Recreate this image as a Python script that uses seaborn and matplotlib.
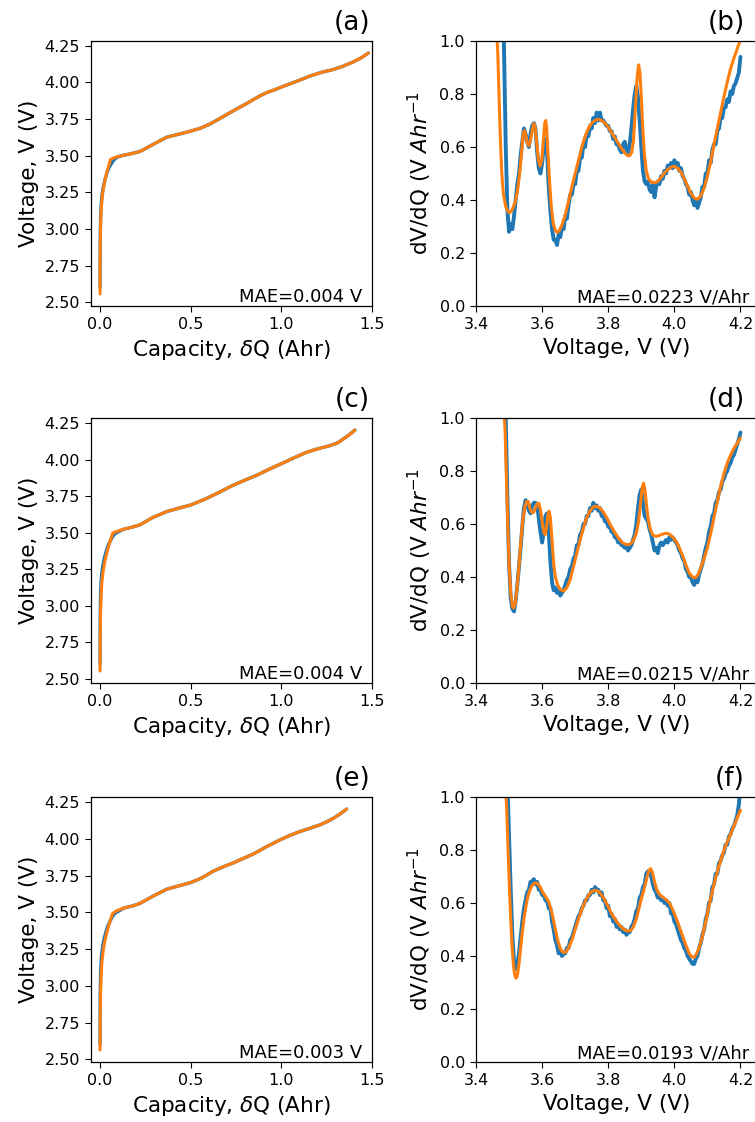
import matplotlib
matplotlib.use("Agg")
import matplotlib.pyplot as plt
import seaborn as sns

# ---------------- data ----------------
# Left column: voltage vs capacity (measured = blue, fitted = orange)
Q_A_MEAS = [0.000, 0.001, 0.003, 0.006, 0.010, 0.015, 0.022, 0.030, 0.040, 0.050,
            0.060, 0.070, 0.080, 0.090, 0.100, 0.120, 0.160, 0.220, 0.290, 0.368,
            0.430, 0.500, 0.560, 0.607, 0.670, 0.735, 0.800, 0.882, 0.919, 0.960,
            1.000, 1.080, 1.158, 1.220, 1.287, 1.340, 1.397, 1.440, 1.480]
V_A_MEAS = [2.60, 2.95, 3.08, 3.16, 3.22, 3.27, 3.31, 3.35, 3.39, 3.42,
            3.44, 3.46, 3.475, 3.485, 3.492, 3.500, 3.510, 3.528, 3.575, 3.626,
            3.645, 3.667, 3.690, 3.716, 3.760, 3.806, 3.850, 3.908, 3.930, 3.948,
            3.968, 4.005, 4.043, 4.068, 4.088, 4.110, 4.140, 4.167, 4.200]
Q_A_FIT = [0.000, 0.000, 0.001, 0.003, 0.006, 0.010, 0.015, 0.022, 0.030, 0.040,
           0.050, 0.057, 0.070, 0.090, 0.120, 0.160, 0.220, 0.290, 0.368, 0.430,
           0.500, 0.560, 0.607, 0.670, 0.735, 0.800, 0.882, 0.919, 0.960, 1.000,
           1.080, 1.158, 1.220, 1.287, 1.340, 1.397, 1.440, 1.480]
V_A_FIT = [2.556, 2.75, 2.90, 3.03, 3.12, 3.19, 3.25, 3.30, 3.35, 3.40,
           3.44, 3.473, 3.482, 3.490, 3.500, 3.510, 3.528, 3.575, 3.626, 3.645,
           3.667, 3.690, 3.716, 3.760, 3.806, 3.850, 3.908, 3.930, 3.948, 3.968,
           4.005, 4.043, 4.068, 4.088, 4.110, 4.140, 4.167, 4.200]

Q_C_MEAS = [0.000, 0.001, 0.003, 0.006, 0.010, 0.016, 0.024, 0.033, 0.043, 0.055,
            0.065, 0.075, 0.085, 0.100, 0.130, 0.180, 0.220, 0.290, 0.368, 0.430,
            0.500, 0.588, 0.660, 0.735, 0.800, 0.864, 0.930, 1.000, 1.070, 1.140,
            1.200, 1.268, 1.310, 1.342, 1.375, 1.406]
V_C_MEAS = [2.60, 2.95, 3.09, 3.17, 3.23, 3.28, 3.33, 3.37, 3.41, 3.44,
            3.465, 3.485, 3.497, 3.507, 3.525, 3.54, 3.555, 3.605, 3.646, 3.668,
            3.691, 3.736, 3.78, 3.827, 3.862, 3.895, 3.935, 3.974, 4.015, 4.053,
            4.076, 4.098, 4.117, 4.144, 4.173, 4.205]
Q_C_FIT = [0.000, 0.001, 0.003, 0.006, 0.010, 0.016, 0.024, 0.033, 0.043, 0.055,
           0.065, 0.070, 0.092, 0.130, 0.180, 0.220, 0.290, 0.368, 0.430, 0.500,
           0.588, 0.660, 0.735, 0.800, 0.864, 0.930, 1.000, 1.070, 1.140, 1.200,
           1.268, 1.310, 1.342, 1.375, 1.406]
V_C_FIT = [2.553, 2.80, 2.96, 3.07, 3.16, 3.23, 3.29, 3.34, 3.39, 3.44,
           3.48, 3.499, 3.51, 3.525, 3.54, 3.555, 3.605, 3.646, 3.668, 3.691,
           3.736, 3.78, 3.827, 3.862, 3.895, 3.935, 3.974, 4.015, 4.053, 4.076,
           4.098, 4.117, 4.144, 4.173, 4.205]

Q_E_MEAS = [0.000, 0.001, 0.003, 0.006, 0.010, 0.016, 0.024, 0.033, 0.043, 0.055,
            0.065, 0.075, 0.085, 0.100, 0.130, 0.180, 0.220, 0.290, 0.368, 0.430,
            0.500, 0.560, 0.625, 0.680, 0.735, 0.846, 0.920, 0.993, 1.050, 1.103,
            1.160, 1.213, 1.250, 1.287, 1.325, 1.360]
V_E_MEAS = [2.60, 2.95, 3.09, 3.17, 3.23, 3.28, 3.33, 3.37, 3.41, 3.44,
            3.465, 3.485, 3.497, 3.507, 3.53, 3.545, 3.562, 3.61, 3.659, 3.68,
            3.704, 3.735, 3.782, 3.812, 3.838, 3.899, 3.95, 3.995, 4.027, 4.052,
            4.075, 4.097, 4.118, 4.142, 4.172, 4.205]
Q_E_FIT = [0.000, 0.001, 0.003, 0.006, 0.010, 0.016, 0.024, 0.033, 0.043, 0.055,
           0.065, 0.070, 0.092, 0.130, 0.180, 0.220, 0.290, 0.368, 0.430, 0.500,
           0.560, 0.625, 0.680, 0.735, 0.846, 0.920, 0.993, 1.050, 1.103, 1.160,
           1.213, 1.250, 1.287, 1.325, 1.360]
V_E_FIT = [2.563, 2.80, 2.96, 3.07, 3.16, 3.23, 3.29, 3.34, 3.39, 3.44,
           3.48, 3.494, 3.512, 3.53, 3.545, 3.562, 3.61, 3.659, 3.68, 3.704,
           3.735, 3.782, 3.812, 3.838, 3.899, 3.95, 3.995, 4.027, 4.052, 4.075,
           4.097, 4.118, 4.142, 4.172, 4.205]

# Right column: dV/dQ vs voltage. Measured (blue) sampled on a shared voltage grid.
V_GRID = [3.480, 3.485, 3.490, 3.495, 3.500, 3.505, 3.510, 3.515, 3.520, 3.525,
          3.530, 3.535, 3.540, 3.545, 3.550, 3.555, 3.560, 3.565, 3.570, 3.575,
          3.580, 3.585, 3.590, 3.595, 3.600, 3.605, 3.610, 3.615, 3.620, 3.625,
          3.630, 3.635, 3.640, 3.645, 3.650, 3.655, 3.660, 3.665, 3.670, 3.675,
          3.680, 3.685, 3.690, 3.695, 3.700, 3.705, 3.710, 3.715, 3.720, 3.725,
          3.730, 3.735, 3.740, 3.745, 3.750, 3.755, 3.760, 3.765, 3.770, 3.775,
          3.780, 3.785, 3.790, 3.795, 3.800, 3.805, 3.810, 3.815, 3.820, 3.825,
          3.830, 3.835, 3.840, 3.845, 3.850, 3.855, 3.860, 3.865, 3.870, 3.875,
          3.880, 3.885, 3.890, 3.895, 3.900, 3.905, 3.910, 3.915, 3.920, 3.925,
          3.930, 3.935, 3.940, 3.945, 3.950, 3.955, 3.960, 3.965, 3.970, 3.975,
          3.980, 3.985, 3.990, 3.995, 4.000, 4.005, 4.010, 4.015, 4.020, 4.025,
          4.030, 4.035, 4.040, 4.045, 4.050, 4.055, 4.060, 4.065, 4.070, 4.075,
          4.080, 4.085, 4.090, 4.095, 4.100, 4.105, 4.110, 4.115, 4.120, 4.125,
          4.130, 4.135, 4.140, 4.145, 4.150, 4.155, 4.160, 4.165, 4.170, 4.175,
          4.180, 4.185, 4.190, 4.195, 4.200]

DVDQ_B_MEAS = [1.30, 0.95, 0.60, 0.36, 0.28, 0.31, 0.29, 0.34, 0.40, 0.46,
               0.50, 0.57, 0.62, 0.67, 0.65, 0.62, 0.60, 0.65, 0.68, 0.69,
               0.67, 0.58, 0.52, 0.50, 0.54, 0.60, 0.63, 0.58, 0.45, 0.36,
               0.29, 0.25, 0.25, 0.23, 0.27, 0.26, 0.30, 0.29, 0.34, 0.33,
               0.38, 0.42, 0.42, 0.46, 0.46, 0.51, 0.51, 0.56, 0.56, 0.61,
               0.60, 0.65, 0.64, 0.68, 0.67, 0.71, 0.69, 0.73, 0.70, 0.73,
               0.70, 0.70, 0.69, 0.68, 0.68, 0.66, 0.66, 0.63, 0.64, 0.61,
               0.61, 0.59, 0.58, 0.61, 0.62, 0.59, 0.58, 0.61, 0.67, 0.74,
               0.80, 0.83, 0.79, 0.70, 0.60, 0.51, 0.47, 0.46, 0.47, 0.44,
               0.43, 0.46, 0.41, 0.45, 0.47, 0.46, 0.49, 0.48, 0.51, 0.50,
               0.53, 0.52, 0.54, 0.52, 0.55, 0.53, 0.54, 0.51, 0.52, 0.49,
               0.48, 0.46, 0.45, 0.42, 0.43, 0.40, 0.38, 0.40, 0.37, 0.39,
               0.41, 0.45, 0.45, 0.50, 0.50, 0.55, 0.54, 0.59, 0.61, 0.61,
               0.66, 0.67, 0.71, 0.71, 0.75, 0.75, 0.78, 0.77, 0.81, 0.80,
               0.83, 0.84, 0.86, 0.88, 0.94]
DVDQ_D_MEAS = [1.60, 1.30, 1.00, 0.70, 0.45, 0.32, 0.28, 0.27, 0.31, 0.37,
               0.44, 0.51, 0.59, 0.66, 0.69, 0.67, 0.65, 0.64, 0.67, 0.68,
               0.68, 0.67, 0.62, 0.57, 0.53, 0.57, 0.63, 0.64, 0.57, 0.46,
               0.38, 0.35, 0.36, 0.34, 0.35, 0.33, 0.34, 0.35, 0.37, 0.39,
               0.40, 0.43, 0.44, 0.47, 0.48, 0.52, 0.52, 0.56, 0.57, 0.60,
               0.60, 0.63, 0.63, 0.66, 0.65, 0.68, 0.66, 0.67, 0.65, 0.66,
               0.63, 0.63, 0.61, 0.61, 0.59, 0.59, 0.57, 0.57, 0.55, 0.55,
               0.53, 0.54, 0.52, 0.52, 0.51, 0.52, 0.50, 0.51, 0.52, 0.54,
               0.56, 0.60, 0.66, 0.71, 0.73, 0.68, 0.63, 0.62, 0.61, 0.58,
               0.56, 0.53, 0.50, 0.51, 0.49, 0.52, 0.53, 0.52, 0.53, 0.54,
               0.53, 0.55, 0.54, 0.55, 0.54, 0.53, 0.52, 0.50, 0.49, 0.47,
               0.46, 0.43, 0.42, 0.40, 0.40, 0.38, 0.37, 0.39, 0.38, 0.41,
               0.43, 0.45, 0.48, 0.51, 0.53, 0.57, 0.59, 0.63, 0.64, 0.68,
               0.69, 0.72, 0.73, 0.76, 0.77, 0.79, 0.80, 0.82, 0.83, 0.85,
               0.86, 0.88, 0.90, 0.92, 0.945]
DVDQ_F_MEAS = [1.60, 1.40, 1.20, 1.05, 0.85, 0.65, 0.48, 0.38, 0.35, 0.37,
               0.41, 0.47, 0.53, 0.58, 0.61, 0.64, 0.65, 0.68, 0.68, 0.69,
               0.67, 0.68, 0.65, 0.65, 0.63, 0.63, 0.61, 0.61, 0.58, 0.58,
               0.53, 0.50, 0.46, 0.44, 0.41, 0.42, 0.40, 0.41, 0.41, 0.43,
               0.43, 0.46, 0.47, 0.49, 0.51, 0.53, 0.55, 0.56, 0.58, 0.59,
               0.61, 0.61, 0.63, 0.63, 0.65, 0.64, 0.66, 0.65, 0.65, 0.63,
               0.64, 0.61, 0.61, 0.58, 0.59, 0.55, 0.56, 0.53, 0.54, 0.51,
               0.52, 0.50, 0.51, 0.49, 0.50, 0.48, 0.49, 0.49, 0.51, 0.52,
               0.54, 0.57, 0.58, 0.62, 0.63, 0.66, 0.67, 0.71, 0.72, 0.72,
               0.70, 0.67, 0.65, 0.64, 0.62, 0.63, 0.61, 0.62, 0.60, 0.61,
               0.59, 0.60, 0.56, 0.56, 0.53, 0.52, 0.50, 0.48, 0.46, 0.45,
               0.43, 0.42, 0.40, 0.39, 0.38, 0.37, 0.37, 0.39, 0.40, 0.43,
               0.45, 0.48, 0.50, 0.54, 0.56, 0.60, 0.61, 0.66, 0.67, 0.71,
               0.71, 0.75, 0.76, 0.78, 0.79, 0.82, 0.82, 0.85, 0.86, 0.88,
               0.89, 0.91, 0.93, 0.97, 1.05]

# Fitted (orange) dV/dQ curves: (voltage, dV/dQ)
FIT_B = [(3.462, 1.05), (3.466, 0.95), (3.470, 0.78), (3.474, 0.62), (3.478, 0.50),
         (3.483, 0.42), (3.490, 0.375), (3.497, 0.355), (3.503, 0.353), (3.510, 0.365),
         (3.518, 0.39), (3.525, 0.43), (3.532, 0.50), (3.538, 0.58), (3.542, 0.64),
         (3.546, 0.662), (3.550, 0.65), (3.555, 0.615), (3.560, 0.605), (3.566, 0.63),
         (3.571, 0.67), (3.575, 0.688), (3.579, 0.675), (3.584, 0.61), (3.589, 0.55),
         (3.594, 0.528), (3.599, 0.55), (3.604, 0.63), (3.608, 0.69), (3.611, 0.70),
         (3.614, 0.665), (3.618, 0.57), (3.623, 0.46), (3.628, 0.37), (3.634, 0.31),
         (3.640, 0.285), (3.646, 0.278), (3.652, 0.285), (3.660, 0.305), (3.670, 0.345),
         (3.680, 0.395), (3.690, 0.45), (3.700, 0.50), (3.710, 0.55), (3.720, 0.60),
         (3.730, 0.64), (3.740, 0.67), (3.750, 0.69), (3.760, 0.70), (3.770, 0.705),
         (3.780, 0.70), (3.790, 0.69), (3.800, 0.675), (3.810, 0.655), (3.820, 0.635),
         (3.830, 0.615), (3.840, 0.595), (3.850, 0.578), (3.858, 0.568), (3.865, 0.567),
         (3.871, 0.58), (3.876, 0.62), (3.880, 0.70), (3.884, 0.79), (3.888, 0.87),
         (3.892, 0.91), (3.896, 0.88), (3.900, 0.79), (3.904, 0.68), (3.909, 0.58),
         (3.915, 0.51), (3.922, 0.48), (3.930, 0.468), (3.940, 0.465), (3.950, 0.47),
         (3.960, 0.485), (3.970, 0.502), (3.980, 0.515), (3.990, 0.524), (4.000, 0.527),
         (4.010, 0.52), (4.020, 0.505), (4.030, 0.48), (4.040, 0.452), (4.050, 0.425),
         (4.060, 0.408), (4.070, 0.403), (4.080, 0.415), (4.090, 0.445), (4.100, 0.49),
         (4.110, 0.545), (4.120, 0.61), (4.130, 0.67), (4.140, 0.73), (4.150, 0.79),
         (4.160, 0.845), (4.170, 0.895), (4.180, 0.935), (4.190, 0.97), (4.200, 1.005)]
FIT_D = [(3.484, 1.05), (3.488, 0.95), (3.492, 0.78), (3.496, 0.60), (3.500, 0.45),
         (3.505, 0.34), (3.510, 0.29), (3.514, 0.283), (3.519, 0.30), (3.525, 0.37),
         (3.530, 0.44), (3.536, 0.54), (3.542, 0.62), (3.548, 0.665), (3.553, 0.685),
         (3.558, 0.685), (3.563, 0.66), (3.568, 0.645), (3.574, 0.643), (3.580, 0.66),
         (3.585, 0.677), (3.590, 0.678), (3.595, 0.655), (3.600, 0.61), (3.605, 0.57),
         (3.609, 0.56), (3.613, 0.585), (3.617, 0.63), (3.621, 0.648), (3.625, 0.625),
         (3.630, 0.54), (3.635, 0.45), (3.640, 0.40), (3.647, 0.37), (3.655, 0.353),
         (3.665, 0.347), (3.675, 0.36), (3.685, 0.39), (3.695, 0.44), (3.705, 0.49),
         (3.715, 0.54), (3.725, 0.585), (3.735, 0.625), (3.745, 0.65), (3.755, 0.665),
         (3.765, 0.667), (3.775, 0.66), (3.785, 0.645), (3.795, 0.625), (3.805, 0.60),
         (3.815, 0.578), (3.825, 0.558), (3.835, 0.54), (3.845, 0.528), (3.855, 0.522),
         (3.865, 0.523), (3.875, 0.535), (3.885, 0.565), (3.892, 0.61), (3.898, 0.68),
         (3.903, 0.74), (3.907, 0.754), (3.911, 0.73), (3.915, 0.68), (3.920, 0.625),
         (3.927, 0.58), (3.935, 0.558), (3.945, 0.553), (3.955, 0.557), (3.965, 0.562),
         (3.975, 0.565), (3.985, 0.562), (3.995, 0.55), (4.005, 0.535), (4.015, 0.51),
         (4.025, 0.48), (4.035, 0.445), (4.045, 0.415), (4.055, 0.40), (4.064, 0.397),
         (4.072, 0.41), (4.080, 0.435), (4.090, 0.47), (4.100, 0.51), (4.110, 0.565),
         (4.120, 0.625), (4.130, 0.685), (4.140, 0.742), (4.150, 0.79), (4.160, 0.83),
         (4.170, 0.86), (4.180, 0.885), (4.190, 0.905), (4.200, 0.925)]
FIT_F = [(3.489, 1.05), (3.493, 0.95), (3.497, 0.80), (3.501, 0.66), (3.505, 0.54),
         (3.509, 0.44), (3.513, 0.37), (3.517, 0.33), (3.521, 0.316), (3.525, 0.325),
         (3.530, 0.37), (3.535, 0.43), (3.540, 0.49), (3.545, 0.54), (3.550, 0.58),
         (3.556, 0.62), (3.562, 0.645), (3.568, 0.663), (3.575, 0.673), (3.582, 0.676),
         (3.588, 0.672), (3.595, 0.658), (3.602, 0.64), (3.610, 0.625), (3.618, 0.61),
         (3.625, 0.585), (3.632, 0.55), (3.640, 0.50), (3.648, 0.455), (3.656, 0.425),
         (3.664, 0.413), (3.672, 0.415), (3.680, 0.43), (3.690, 0.46), (3.700, 0.50),
         (3.710, 0.54), (3.720, 0.575), (3.730, 0.605), (3.740, 0.628), (3.750, 0.643),
         (3.760, 0.648), (3.770, 0.645), (3.780, 0.63), (3.790, 0.61), (3.800, 0.585),
         (3.810, 0.56), (3.820, 0.54), (3.830, 0.522), (3.840, 0.508), (3.850, 0.498),
         (3.860, 0.494), (3.868, 0.496), (3.876, 0.51), (3.885, 0.54), (3.893, 0.58),
         (3.900, 0.615), (3.908, 0.65), (3.916, 0.69), (3.922, 0.72), (3.928, 0.73),
         (3.934, 0.715), (3.940, 0.68), (3.947, 0.65), (3.955, 0.632), (3.965, 0.622),
         (3.975, 0.613), (3.985, 0.60), (3.995, 0.575), (4.005, 0.545), (4.015, 0.51),
         (4.025, 0.475), (4.035, 0.44), (4.045, 0.41), (4.053, 0.397), (4.060, 0.395),
         (4.068, 0.41), (4.076, 0.435), (4.085, 0.475), (4.095, 0.53), (4.105, 0.59),
         (4.115, 0.645), (4.125, 0.695), (4.135, 0.74), (4.145, 0.78), (4.155, 0.815),
         (4.165, 0.845), (4.175, 0.875), (4.185, 0.905), (4.193, 0.93), (4.200, 0.95)]

PANEL_LETTERS = ["(a)", "(b)", "(c)", "(d)", "(e)", "(f)"]
MAE_LEFT = ["MAE=0.004 V", "MAE=0.004 V", "MAE=0.003 V"]
MAE_RIGHT = ["MAE=0.0223 V/Ahr", "MAE=0.0215 V/Ahr", "MAE=0.0193 V/Ahr"]
X_TICKS_LEFT = [0.0, 0.5, 1.0, 1.5]
Y_TICKS_LEFT = [2.50, 2.75, 3.00, 3.25, 3.50, 3.75, 4.00, 4.25]
X_TICKS_RIGHT = [3.4, 3.6, 3.8, 4.0, 4.2]
Y_TICKS_RIGHT = [0.0, 0.2, 0.4, 0.6, 0.8, 1.0]

for arr in (DVDQ_B_MEAS, DVDQ_D_MEAS, DVDQ_F_MEAS):
    assert len(arr) == len(V_GRID)

# ---------------- style ----------------
sns.set_style("ticks")
plt.rcParams["font.family"] = ["DejaVu Sans"]
plt.rcParams.update({
    "axes.edgecolor": "black", "axes.labelcolor": "black", "text.color": "black",
    "xtick.color": "black", "ytick.color": "black", "axes.linewidth": 0.9,
    "xtick.major.size": 4.5, "ytick.major.size": 4.5,
    "xtick.labelsize": 11.5, "ytick.labelsize": 11.5,
    "mathtext.fontset": "dejavusans",
})
BLUE = "#1f77b4"
ORANGE = "#ff7f0e"

W, H = 755, 1122
fig = plt.figure(figsize=(W / 100, H / 100), dpi=100)


def add_ax(x0, top, w=281, h=265):
    return fig.add_axes([x0 / W, 1 - (top + h) / H, w / W, h / H])


left_data = [(Q_A_MEAS, V_A_MEAS, Q_A_FIT, V_A_FIT),
             (Q_C_MEAS, V_C_MEAS, Q_C_FIT, V_C_FIT),
             (Q_E_MEAS, V_E_MEAS, Q_E_FIT, V_E_FIT)]
right_data = [(DVDQ_B_MEAS, FIT_B), (DVDQ_D_MEAS, FIT_D), (DVDQ_F_MEAS, FIT_F)]
tops = [41, 418, 797]

for i, top in enumerate(tops):
    # ----- left panel -----
    ax = add_ax(91, top)
    qm, vm, qf, vf = left_data[i]
    sns.lineplot(x=qm, y=vm, ax=ax, color=BLUE, lw=2.4, estimator=None, sort=False)
    sns.lineplot(x=qf, y=vf, ax=ax, color=ORANGE, lw=2.2, estimator=None, sort=False)
    ax.set_xlim(-0.05, 1.5)
    ax.set_xticks(X_TICKS_LEFT)
    ax.set_yticks(Y_TICKS_LEFT)
    ax.set_xlabel("Capacity, $\\delta$Q (Ahr)", fontsize=15.5)
    ax.set_ylabel("Voltage, V (V)", fontsize=15.5)
    ax.text(0.964, 0.015, MAE_LEFT[i], transform=ax.transAxes, ha="right",
            va="baseline", fontsize=13)
    ax.annotate(PANEL_LETTERS[2 * i], xy=(0.993, 1.0), xycoords="axes fraction",
                xytext=(0, 8), textcoords="offset points", ha="right",
                va="baseline", fontsize=19)

    # ----- right panel -----
    ax = add_ax(476, top)
    dm, fit = right_data[i]
    sns.lineplot(x=V_GRID, y=dm, ax=ax, color=BLUE, lw=2.8, estimator=None, sort=False)
    sns.lineplot(x=[p[0] for p in fit], y=[p[1] for p in fit], ax=ax, color=ORANGE,
                 lw=2.2, estimator=None, sort=False)
    ax.set_xlim(3.4, 4.25)
    ax.set_ylim(0.0, 1.0)
    ax.set_xticks(X_TICKS_RIGHT)
    ax.set_yticks(Y_TICKS_RIGHT)
    ax.set_xlabel("Voltage, V (V)", fontsize=15.5)
    ax.set_ylabel("dV/dQ (V $Ahr^{-1}$", fontsize=15.5)
    ax.text(0.972, 0.015, MAE_RIGHT[i], transform=ax.transAxes, ha="right",
            va="baseline", fontsize=13)
    ax.annotate(PANEL_LETTERS[2 * i + 1], xy=(0.957, 1.0), xycoords="axes fraction",
                xytext=(0, 8), textcoords="offset points", ha="right",
                va="baseline", fontsize=19)

fig.savefig("out.png", dpi=100)
